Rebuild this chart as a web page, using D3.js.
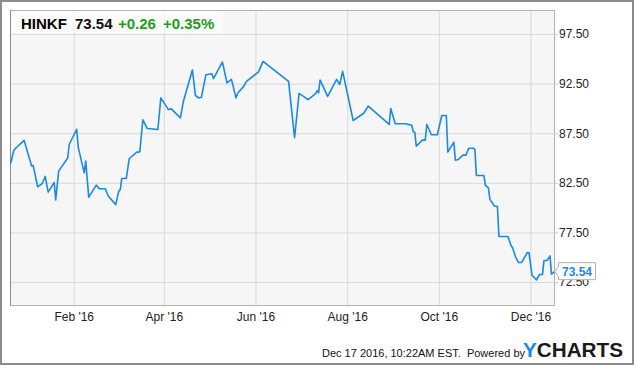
<!DOCTYPE html>
<html>
<head>
<meta charset="utf-8">
<script src="https://cdn.jsdelivr.net/npm/d3@7"></script>
<style>
  html, body { margin: 0; padding: 0; background: #fff; }
  svg { display: block; font-family: "Liberation Sans", Arial, sans-serif; }
</style>
</head>
<body>
<svg id="chart" width="635" height="366"></svg>
<script>
// ---- Data ----
const dates = [
  "2015-12-21","2015-12-23","2015-12-24","2015-12-30","2016-01-04","2016-01-05","2016-01-08","2016-01-11",
  "2016-01-13","2016-01-15","2016-01-19","2016-01-20","2016-01-22","2016-01-28","2016-01-29","2016-02-03",
  "2016-02-04","2016-02-08","2016-02-09","2016-02-11","2016-02-16","2016-02-18","2016-02-22","2016-02-24",
  "2016-02-29","2016-03-02","2016-03-03","2016-03-04","2016-03-07","2016-03-09","2016-03-14","2016-03-16",
  "2016-03-18","2016-03-21","2016-03-28","2016-03-30","2016-04-04","2016-04-06","2016-04-12","2016-04-14",
  "2016-04-20","2016-04-22","2016-04-24","2016-04-26","2016-04-29","2016-05-03","2016-05-04","2016-05-10",
  "2016-05-13","2016-05-16","2016-05-19","2016-05-20","2016-05-24","2016-05-26","2016-06-03","2016-06-06",
  "2016-06-23","2016-06-27","2016-06-30","2016-07-06","2016-07-11","2016-07-12","2016-07-13","2016-07-14",
  "2016-07-19","2016-07-25","2016-07-27","2016-07-29","2016-08-05","2016-08-12","2016-08-15","2016-08-29",
  "2016-08-30","2016-09-02","2016-09-09","2016-09-13","2016-09-14","2016-09-15","2016-09-16","2016-09-20",
  "2016-09-22","2016-09-23","2016-09-26","2016-09-30","2016-10-03","2016-10-06","2016-10-07","2016-10-11",
  "2016-10-12","2016-10-14","2016-10-17","2016-10-19","2016-10-21","2016-10-24","2016-10-25","2016-10-26",
  "2016-10-31","2016-11-01","2016-11-03","2016-11-04","2016-11-07","2016-11-09","2016-11-10","2016-11-16",
  "2016-11-18","2016-11-19","2016-11-21","2016-11-23","2016-11-25","2016-11-29","2016-11-30","2016-12-02",
  "2016-12-05","2016-12-07","2016-12-09","2016-12-10","2016-12-12","2016-12-14","2016-12-15","2016-12-17"
];
const prices = [
  84.42,85.70,85.93,86.77,84.20,84.25,82.10,82.41,
  83.14,81.56,82.54,80.76,83.68,85.00,86.36,87.90,
  86.10,83.50,84.70,81.06,82.27,81.90,81.90,81.17,
  80.30,81.66,81.81,82.94,82.94,84.95,85.59,85.60,
  88.85,87.97,87.87,91.06,89.88,89.95,89.05,90.72,
  93.88,91.32,91.06,91.12,93.40,93.50,93.00,94.68,
  92.57,92.93,91.06,91.50,92.20,92.73,93.68,94.74,
  92.73,87.04,91.52,90.89,91.50,91.80,91.56,92.87,
  91.22,92.93,92.40,93.74,88.78,89.51,90.22,88.38,
  89.98,88.45,88.45,88.30,87.64,87.60,86.19,86.80,
  86.80,88.40,87.34,87.34,89.28,89.28,85.59,86.60,
  84.78,84.85,85.29,85.29,85.99,85.99,85.86,83.24,
  83.24,82.24,82.00,80.83,80.16,80.10,77.08,77.08,
  76.20,75.97,75.07,74.46,74.46,75.47,75.47,73.21,
  72.70,73.25,73.25,74.66,74.66,75.13,73.28,73.54
];
const yTicks = [72.5, 77.5, 82.5, 87.5, 92.5, 97.5];
const xTickDates = ["2016-02-01","2016-04-01","2016-06-01","2016-08-01","2016-10-01","2016-12-01"];
const xTickLabels = ["Feb '16","Apr '16","Jun '16","Aug '16","Oct '16","Dec '16"];
const ticker = "HINKF";
const lastPrice = "73.54";
const change = "+0.26";
const changePct = "+0.35%";
const footerText = "Dec 17 2016, 10:22AM EST.  Powered by";

// ---- Chart ----
const parse = d3.timeParse("%Y-%m-%d");
const data = dates.map((d, i) => ({ date: parse(d), value: prices[i] }));

const svg = d3.select("#chart");
const L = 10, R = 554, T = 10, B = 305;

const x = d3.scaleTime()
  .domain([parse("2015-12-21"), parse("2016-12-17")])
  .range([L + 0.6, R + 0.5]);
const y = d3.scaleLinear()
  .domain([70.18, 99.92])
  .range([B, T]);

// outer frame
svg.append("rect").attr("x", 1).attr("y", 1).attr("width", 632).attr("height", 363)
  .attr("fill", "#fff").attr("stroke", "#8c8c8c").attr("stroke-width", 2);

// plot background
svg.append("rect").attr("x", L + 0.5).attr("y", T + 0.5)
  .attr("width", R - L).attr("height", B - T).attr("fill", "#f6f6f6");

// horizontal gridlines
const gy = svg.append("g").attr("transform", `translate(${L},0)`)
  .call(d3.axisLeft(y).tickValues(yTicks).tickSize(-(R - L)).tickFormat(""));
gy.select(".domain").remove();
gy.selectAll(".tick line").attr("stroke", "#d9d9d9");

// vertical gridlines
const gx = svg.append("g").attr("transform", `translate(0,${B})`)
  .call(d3.axisBottom(x).tickValues(xTickDates.map(parse)).tickSize(-(B - T)).tickFormat(""));
gx.select(".domain").remove();
gx.selectAll(".tick line").attr("stroke", "#d9d9d9");

// title box
svg.append("rect").attr("x", L + 1).attr("y", T + 1).attr("width", 212).attr("height", 22)
  .attr("fill", "#fff").attr("fill-opacity", 0.55);

// plot border
svg.append("rect").attr("x", L + 0.5).attr("y", T + 0.5)
  .attr("width", R - L).attr("height", B - T)
  .attr("fill", "none").attr("stroke", "#b4b4b4");
svg.append("line").attr("x1", L + 0.5).attr("x2", L + 0.5).attr("y1", T).attr("y2", B + 1)
  .attr("stroke", "#8a8a8a");

// y axis (right)
const ya = svg.append("g").attr("transform", `translate(${R},0)`)
  .call(d3.axisRight(y).tickValues(yTicks).tickFormat(d3.format(".2f")).tickSize(4).tickPadding(1));
ya.select(".domain").remove();
ya.selectAll(".tick line").attr("stroke", "#c8c8c8");
ya.selectAll("text").attr("fill", "#222").style("font-size", "12px")
  .style("font-family", "Liberation Sans, Arial, sans-serif");

// x axis (bottom)
const xa = svg.append("g").attr("transform", `translate(0,${B})`)
  .call(d3.axisBottom(x).tickValues(xTickDates.map(parse))
    .tickFormat((d, i) => xTickLabels[i]).tickSize(0).tickPadding(7));
xa.select(".domain").remove();
xa.selectAll("text").attr("fill", "#222").style("font-size", "12px")
  .style("font-family", "Liberation Sans, Arial, sans-serif");

// price line
svg.append("path").datum(data)
  .attr("fill", "none").attr("stroke", "#1a8ae4").attr("stroke-width", 1.6)
  .attr("stroke-linejoin", "round")
  .attr("d", d3.line().x(d => x(d.date)).y(d => y(d.value)));

// last price callout
const last = data[data.length - 1];
const lx = x(last.date), ly = y(last.value);
const bx = lx + 4, bw = 37, bh = 17;
svg.append("path")
  .attr("d", `M${lx},${ly} L${bx},${ly - 5} L${bx},${ly - 9} L${bx + bw},${ly - 9} L${bx + bw},${ly + 8} L${bx},${ly + 8} L${bx},${ly + 5} Z`)
  .attr("fill", "#fff").attr("stroke", "#b0b0b0").attr("stroke-width", 1);
svg.append("text").attr("x", bx + bw / 2).attr("y", ly + 4.5)
  .attr("text-anchor", "middle").attr("fill", "#1a8ae4")
  .style("font-size", "12px").style("font-weight", "bold").text(lastPrice);

// title
const title = svg.append("text").attr("y", 29).style("font-size", "15px").style("font-weight", "bold");
title.append("tspan").attr("x", 21).attr("fill", "#000").text(ticker);
title.append("tspan").attr("x", 75).attr("fill", "#111").text(lastPrice);
title.append("tspan").attr("x", 118).attr("fill", "#1e9e1e").text(change);
title.append("tspan").attr("x", 163).attr("fill", "#1e9e1e").text(changePct);

// footer
svg.append("text").attr("x", 322).attr("y", 357).attr("fill", "#111")
  .style("font-size", "11px").style("white-space", "pre").text(footerText);
const logo = svg.append("text").attr("x", 523).attr("y", 357)
  .style("font-size", "20px").style("font-weight", "bold")
  .attr("textLength", 100).attr("lengthAdjust", "spacingAndGlyphs");
logo.append("tspan").attr("fill", "#1a8ae4").text("Y");
logo.append("tspan").attr("fill", "#1a1a1a").text("CHARTS");
</script>
</body>
</html>
